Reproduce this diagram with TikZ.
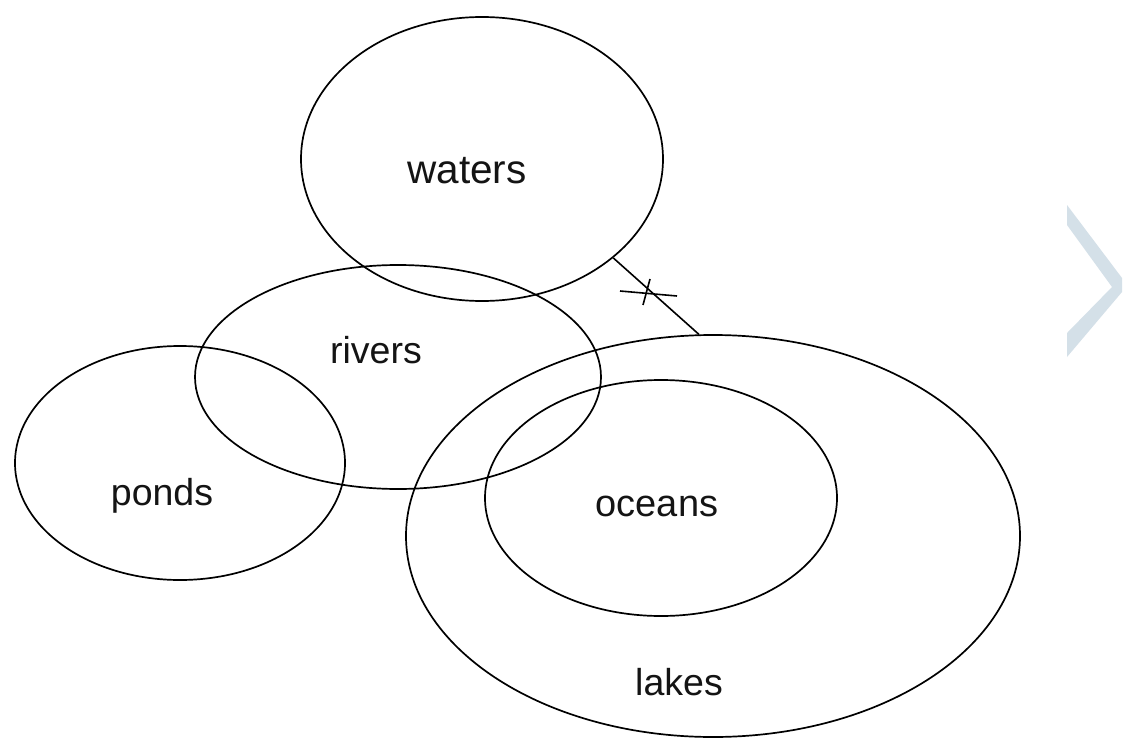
\documentclass[tikz,border=0pt]{standalone}
\usepackage{fontspec}
\setmainfont{Liberation Sans}
\usetikzlibrary{shapes.geometric}
\definecolor{chev}{RGB}{212,224,232}
\tikzset{
  set/.style={draw=black, line width=1.7pt, ellipse, inner sep=0pt},
  lbl/.style={anchor=base, inner sep=0pt, font=\fontsize{37.5}{45}\selectfont, text=black!92},
  linkline/.style={line width=1.6pt}
}
\begin{document}
\begin{tikzpicture}[x=1pt,y=-1pt]
\useasboundingbox (0,0) rectangle (1126,738);
\fill[white] (0,0) rectangle (1126,738);
% chevron
\fill[chev] (1067,205) -- (1122,278) -- (1122,292) -- (1067,357) -- (1067,333) -- (1112,287) -- (1067,225) -- cycle;
% sets
\node[set, minimum width=362pt, minimum height=284pt] (waters) at (482,159) {};
\node[set, minimum width=406pt, minimum height=224pt] (rivers) at (398,377) {};
\node[set, minimum width=330pt, minimum height=234pt] (ponds) at (180,463) {};
\node[set, minimum width=614pt, minimum height=402pt] (lakes) at (713,536) {};
\node[set, minimum width=352pt, minimum height=236pt] (oceans) at (661,498) {};
% labels
\node[lbl, font=\fontsize{40.5}{48}\selectfont] (twaters) at (467,183) {waters};
\node[lbl] (trivers) at (376,363) {rivers};
\node[lbl] (tponds) at (162,505) {ponds};
\node[lbl, font=\fontsize{38}{45}\selectfont] (toceans) at (657,516) {oceans};
\node[lbl] (tlakes) at (679,695) {lakes};
% connector with cross mark
\draw[linkline] (waters.-37) -- (lakes.94);
\coordinate (h1) at (620,291);
\coordinate (h2) at (677,296);
\coordinate (v1) at (650,279);
\coordinate (v2) at (643,305);
\draw[linkline] (h1) -- (h2);
\draw[linkline] (v1) -- (v2);
\end{tikzpicture}
\end{document}
